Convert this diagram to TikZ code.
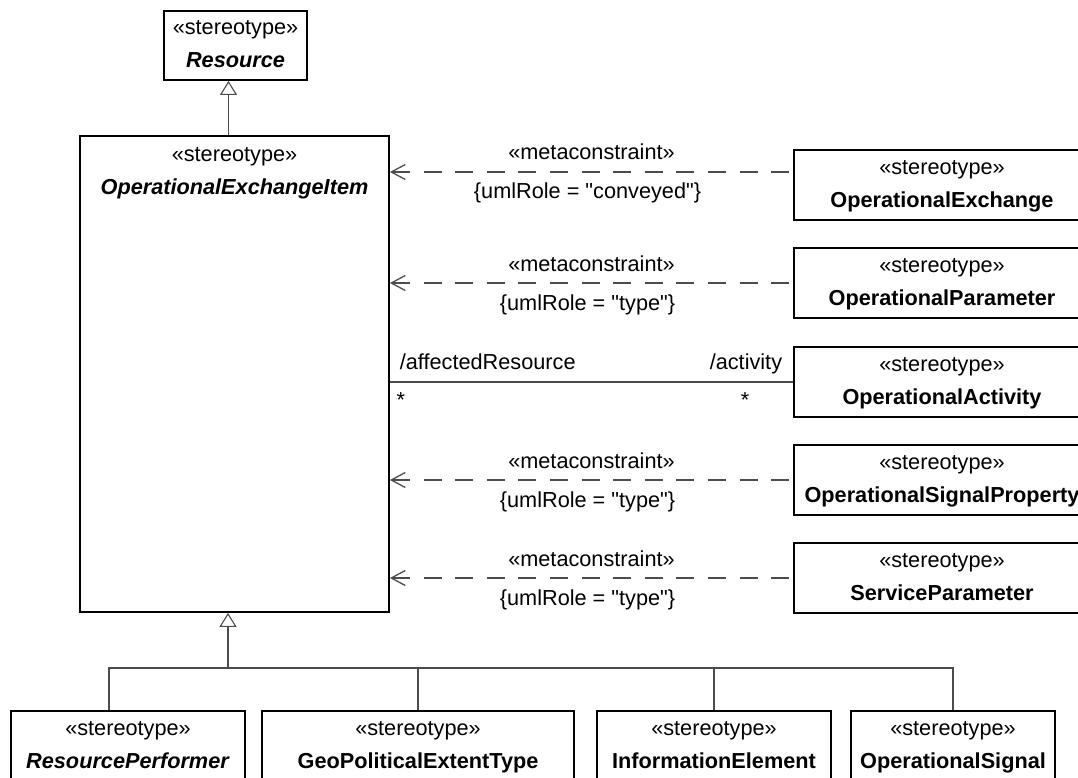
\documentclass[tikz,border=0pt]{standalone}
\usepackage{fontspec}
\setmainfont{Liberation Sans}
\usetikzlibrary{arrows.meta}
\begin{document}
\begin{tikzpicture}[
  x=1pt, y=-1pt,
  font=\fontsize{21.7pt}{33pt}\selectfont,
  cls/.style={rectangle, draw=black, line width=1.8pt, inner sep=0pt, minimum height=70pt, align=center, text height=49pt, text depth=4pt},
  dep/.style={draw=black!70, line width=1.3pt, dash pattern=on 18pt off 13.6pt, {Straight Barb[length=14pt, width=15pt, line width=1.3pt]}-},
  assoc/.style={draw=black!70, line width=1.3pt},
  gen/.style={draw=black!70, line width=1.3pt, {Triangle[open, length=14pt, width=17pt, fill=white, line width=1.1pt]}-},
  conn/.style={draw=black!70, line width=1.1pt}
]
  \useasboundingbox (0,0) rectangle (1078,778);
  \clip (0,0) rectangle (1078,778);

  % Estereotipos de la izquierda
  \node[cls, minimum width=143pt, minimum height=69pt] (res) at (235.5,45.5) {«stereotype»\\\textbf{\textit{Resource}}};
  \node[cls, minimum width=309pt, minimum height=476pt] (oei) at (234.5,374) {};
  \node[anchor=north, inner sep=0pt, align=center] (oeit) at ([yshift=-12pt]oei.north) {«stereotype»\\\textbf{\textit{OperationalExchangeItem}}};

  % Columna derecha
  \node[cls, minimum width=296pt] (opx) at (942,185) {«stereotype»\\\textbf{OperationalExchange}};
  \node[cls, minimum width=296pt] (opp) at (942,283) {«stereotype»\\\textbf{OperationalParameter}};
  \node[cls, minimum width=296pt] (opa) at (942,382) {«stereotype»\\\textbf{OperationalActivity}};
  \node[cls, minimum width=296pt] (osp) at (942,480) {«stereotype»\\\textbf{OperationalSignalProperty}};
  \node[cls, minimum width=296pt] (svp) at (942,578) {«stereotype»\\\textbf{ServiceParameter}};

  % Fila inferior
  \node[cls, minimum width=234pt] (rp) at (128,746) {«stereotype»\\\textbf{\textit{ResourcePerformer}}};
  \node[cls, minimum width=312pt] (gp) at (418,746) {«stereotype»\\\textbf{GeoPoliticalExtentType}};
  \node[cls, minimum width=234pt] (ie) at (714,746) {«stereotype»\\\textbf{InformationElement}};
  \node[cls, minimum width=204pt] (os) at (953,746) {«stereotype»\\\textbf{OperationalSignal}};

  % Metarestricciones
  \coordinate (c1) at ([yshift=13pt]opx.west);
  \draw[dep] (oei.east |- c1) -- (c1)
    node[midway, anchor=base, yshift=12pt] {«metaconstraint»}
    node[midway, anchor=base, xshift=-4pt, yshift=-27pt] {\{umlRole = \textquotedbl conveyed\textquotedbl\}};
  \draw[dep] (oei.east |- opp.west) -- (opp.west)
    node[midway, anchor=base, yshift=12pt] {«metaconstraint»}
    node[midway, anchor=base, xshift=-4pt, yshift=-27pt] {\{umlRole = \textquotedbl type\textquotedbl\}};
  \draw[dep] (oei.east |- osp.west) -- (osp.west)
    node[midway, anchor=base, yshift=12pt] {«metaconstraint»}
    node[midway, anchor=base, xshift=-4pt, yshift=-27pt] {\{umlRole = \textquotedbl type\textquotedbl\}};
  \draw[dep] (oei.east |- svp.west) -- (svp.west)
    node[midway, anchor=base, yshift=12pt] {«metaconstraint»}
    node[midway, anchor=base, xshift=-4pt, yshift=-27pt] {\{umlRole = \textquotedbl type\textquotedbl\}};

  % Asociacion con la actividad
  \draw[assoc] (oei.east |- opa.west) -- (opa.west)
    node[pos=0, anchor=base west, xshift=6pt, yshift=12.5pt] {/affectedResource}
    node[pos=1, anchor=base east, xshift=-7pt, yshift=12.5pt] {/activity}
    node[pos=0, anchor=base, xshift=11pt, yshift=-25.6pt] {*}
    node[pos=1, anchor=base, xshift=-48pt, yshift=-25.6pt] {*};

  % Generalizaciones
  \draw[gen] ([xshift=-7pt]res.south) -- ([xshift=-7pt]res.south |- oei.north);
  \coordinate (bus) at (228,668);
  \draw[gen] (bus |- oei.south) -- (bus);
  \draw[conn] ([xshift=-19pt]rp.north) |- (os.north |- bus) -- (os.north);
  \draw[conn] (gp.north) -- (gp.north |- bus);
  \draw[conn] (ie.north) -- (ie.north |- bus);
\end{tikzpicture}
\end{document}
